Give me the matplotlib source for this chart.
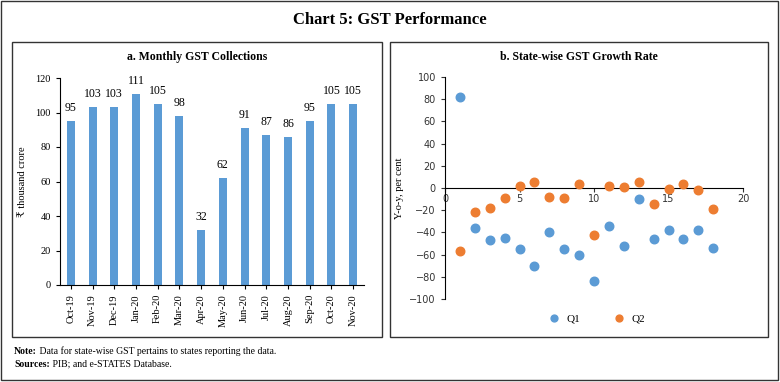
import matplotlib.pyplot as plt
from matplotlib.patches import Rectangle

# data
months = ['Oct-19', 'Nov-19', 'Dec-19', 'Jan-20', 'Feb-20', 'Mar-20', 'Apr-20',
          'May-20', 'Jun-20', 'Jul-20', 'Aug-20', 'Sep-20', 'Oct-20', 'Nov-20']
gst = [95, 103, 103, 111, 105, 98, 32, 62, 91, 87, 86, 95, 105, 105]

states = list(range(1, 19))
q1 = [82, -36, -47, -45, -55, -70, -40, -55, -60, -84, -34, -52, -10, -46, -38, -46, -38, -54]
q2 = [-57, -22, -18, -9, 2, 5, -8, -9, 4, -42, 1.5, 0.5, 5, -14, -0.5, 4, -1.5, -19]

blue = '#5B9BD5'
orange = '#ED7D31'
serif = ['Liberation Serif', 'DejaVu Serif']

fig = plt.figure(figsize=(7.8, 3.82), dpi=100)
W, H = 780, 382

def box(x0, y0, x1, y1, lw=1.0):
    fig.patches.append(Rectangle((x0 / W, 1 - y1 / H), (x1 - x0) / W, (y1 - y0) / H,
                                 transform=fig.transFigure, fill=False,
                                 edgecolor='#333333', linewidth=lw))

box(1, 1, 778, 380)
box(12, 42, 382, 337)
box(390, 42, 768, 337)

fig.text(0.5, 1 - 20 / H, 'Chart 5: GST Performance', ha='center', va='center',
         fontsize=12, fontweight='bold', family=serif)
fig.text(197 / W, 1 - 57 / H, 'a. Monthly GST Collections', ha='center', va='center',
         fontsize=8.5, fontweight='bold', family=serif)
fig.text(579 / W, 1 - 57 / H, 'b. State-wise GST Growth Rate', ha='center', va='center',
         fontsize=8.5, fontweight='bold', family=serif)

# a. bars
ax1 = fig.add_axes([60 / W, 1 - 285 / H, 304 / W, 207 / H])
x = range(len(months))
ax1.bar(x, gst, width=0.37, color=blue)
for i, v in zip(x, gst):
    ax1.text(i, v + 4, str(v), ha='center', va='bottom', fontsize=8.5, family=serif)
ax1.set_xlim(-0.5, len(months) - 0.5)
ax1.set_ylim(0, 120)
ax1.set_yticks(range(0, 121, 20))
ax1.set_xticks(list(x))
ax1.set_xticklabels(months, rotation=90, fontsize=7.5, family=serif)
for lab in ax1.get_yticklabels():
    lab.set_family(serif)
ax1.tick_params(axis='y', labelsize=7.5, length=3)
ax1.tick_params(axis='x', length=3)
ax1.set_ylabel('₹ thousand crore', fontsize=7.5, family=serif, labelpad=6)
ax1.spines['top'].set_visible(False)
ax1.spines['right'].set_visible(False)

# b. scatter
ax2 = fig.add_axes([445 / W, 1 - 299 / H, 298 / W, 222 / H])
ax2.scatter(states, q1, s=38, color=blue, label='Q1', zorder=3)
ax2.scatter(states, q2, s=38, color=orange, label='Q2', zorder=3)
ax2.set_xlim(0, 20)
ax2.set_ylim(-100, 100)
ax2.set_yticks(range(-100, 101, 20))
ax2.set_xticks([0, 5, 10, 15, 20])
ax2.spines['bottom'].set_position(('data', 0))
ax2.spines['top'].set_visible(False)
ax2.spines['right'].set_visible(False)
ax2.tick_params(labelsize=7, length=3, colors='#333333')
ax2.tick_params(axis='x', pad=1)
ax2.set_ylabel('Y-o-y, per cent', fontsize=7.5, family=serif, labelpad=4)
ax2.legend(loc='upper center', bbox_to_anchor=(0.5, -0.02), ncol=2, frameon=False,
           prop={'family': serif, 'size': 8}, handletextpad=0.1, columnspacing=2.5,
           markerscale=0.8)

# notes
n1 = fig.text(14 / W, 1 - 354 / H, 'Note:', fontsize=7, family=serif, fontweight='bold',
              va='baseline')
ax1.annotate(' Data for state-wise GST pertains to states reporting the data.',
             xy=(1, 0), xycoords=n1, va='bottom', fontsize=7, family=serif,
             annotation_clip=False)
n2 = fig.text(14 / W, 1 - 367 / H, 'Sources:', fontsize=7, family=serif, fontweight='bold',
              va='baseline')
ax1.annotate(' PIB; and e-STATES Database.', xy=(1, 0), xycoords=n2, va='bottom',
             fontsize=7, family=serif, annotation_clip=False)

fig.savefig('out.png', dpi=100)
